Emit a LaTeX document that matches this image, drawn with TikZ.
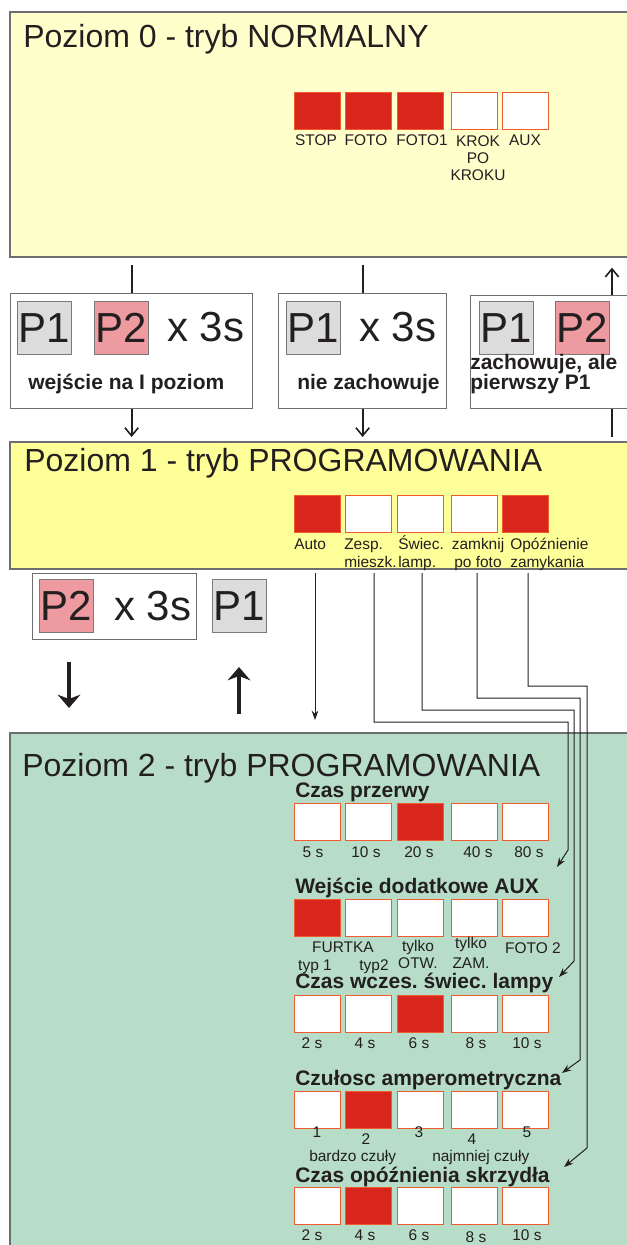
\documentclass[tikz,border=0pt]{standalone}
\usepackage{fontspec}
\setmainfont{Liberation Sans}
\usetikzlibrary{arrows.meta,calc}
\frenchspacing
\definecolor{txt}{HTML}{231F20}
\definecolor{pzero}{HTML}{FFFFCC}
\definecolor{pone}{HTML}{FFFF99}
\definecolor{ptwo}{HTML}{B7DDC8}
\definecolor{pborder}{HTML}{6D6E70}
\definecolor{ledred}{HTML}{D9261C}
\definecolor{ledline}{HTML}{F15A2B}
\definecolor{keygray}{HTML}{DCDCDC}
\definecolor{keypink}{HTML}{EE9AA1}
\definecolor{keyline}{HTML}{7A7A7A}
\tikzset{
  panel/.style={draw=pborder, line width=1pt, anchor=north west, inner sep=0, outer sep=0},
  led/.style={draw=ledline, line width=0.9pt, fill=white, minimum width=34.5pt, minimum height=27.75pt, inner sep=0, anchor=north west},
  ledon/.style={led, fill=ledred},
  lbl/.style={font=\fontsize{11.6}{13.5}\selectfont\frenchspacing, inner sep=0, text=txt},
  head/.style={font=\bfseries\fontsize{15.75}{18}\selectfont\frenchspacing, anchor=base west, inner sep=0, text=txt},
  ttl/.style={font=\fontsize{24}{28}\selectfont, anchor=base west, inner sep=0, text=txt},
  big/.style={font=\fontsize{31.5}{36}\selectfont, inner sep=0, text=txt},
  keyg/.style={big, fill=keygray, draw=keyline, line width=0.75pt, minimum width=40.5pt, minimum height=39.75pt, anchor=north west},
  keyp/.style={keyg, fill=keypink},
  frame/.style={draw=pborder, fill=white, line width=0.9pt, anchor=north west, inner sep=0},
  link/.style={line width=1.5pt, draw=txt},
  barb/.style={-{Straight Barb[length=6pt,width=10pt,line width=1.2pt]}},
  fat/.style={line width=2.4pt, draw=txt, -{Stealth[length=10pt,width=17pt]}},
  route/.style={line width=0.75pt, draw=txt, -{Stealth[length=7pt,width=5pt]}}
}
\begin{document}
\begin{tikzpicture}[x=0.75pt,y=-0.75pt]
\useasboundingbox[fill=white] (0,0) rectangle (627,1245);

% ---------- panels ----------
\node[panel, fill=pzero, minimum width=472.5pt, minimum height=183.75pt] (p0) at (10,12) {};
\node[panel, fill=pone, minimum width=472.5pt, minimum height=95.25pt] (p1) at (10,442) {};
\node[panel, fill=ptwo, minimum width=472.5pt, minimum height=395.25pt] (p2) at (10,733) {};

\node[ttl] (t0) at (23,48) {Poziom 0 - tryb NORMALNY};
\node[ttl] (t1) at (24,471) {Poziom 1 - tryb PROGRAMOWANIA};
\node[ttl] (t2) at (22,776) {Poziom 2 - tryb PROGRAMOWANIA};

% ---------- level 0 LEDs ----------
\node[ledon] (s0a) at (294,92) {};
\node[ledon] (s0b) at (345,92) {};
\node[ledon] (s0c) at (397,92) {};
\node[led]   (s0d) at (451,92) {};
\node[led]   (s0e) at (502,92) {};
\node[lbl, anchor=base] (l0a) at (316,146) {STOP};
\node[lbl, anchor=base] (l0b) at (366,146) {FOTO};
\node[lbl, anchor=base] (l0c) at (422,146) {FOTO1};
\node[lbl, anchor=base, align=center] (l0d) at (478,180.5) {KROK\\[-0.6pt]PO\\[-0.6pt]KROKU};
\node[lbl, anchor=base] (l0e) at (525,146) {AUX};

% ---------- key boxes between level 0 and 1 ----------
\node[frame, minimum width=181.5pt, minimum height=86.25pt] (bA) at (10,293) {};
\node[keyg] (kA1) at (17,301) {P1};
\node[keyp] (kA2) at (94,301) {P2};
\node[big, anchor=base west] (xA) at (167,341) {x 3s};
\node[head] (tA) at (28,389) {wejście na I poziom};

\node[frame, minimum width=126pt, minimum height=86.25pt] (bB) at (278,293) {};
\node[keyg] (kB1) at (286,301) {P1};
\node[big, anchor=base west] (xB) at (359,341) {x 3s};
\node[head] (tB) at (297,389) {nie zachowuje};

\node[frame, minimum width=127.5pt, minimum height=84.75pt] (bC) at (470,295) {};
\node[keyg] (kC1) at (479,301) {P1};
\node[keyp] (kC2) at (555,301) {P2};
\node[head] (tC1) at (470,369) {zachowuje, ale};
\node[head] (tC2) at (470,389) {pierwszy P1};

\coordinate (cC) at (612,0);
\draw[link, shorten <=6pt] (p0.south -| bA.north) -- (bA.north);
\draw[link, shorten <=6pt] (p0.south -| bB.north) -- (bB.north);
\draw[link, barb, shorten >=3.75pt] (bA.south) -- (p1.north -| bA.south);
\draw[link, barb, shorten >=3.75pt] (bB.south) -- (p1.north -| bB.south);
\draw[link, barb, shorten >=8pt] (bC.north -| cC) -- (p0.south -| cC);
\draw[link, shorten >=3.75pt] (bC.south -| cC) -- (p1.north -| cC);

% ---------- level 1 LEDs ----------
\node[ledon] (s1a) at (294,495) {};
\node[led]   (s1b) at (345,495) {};
\node[led]   (s1c) at (397,495) {};
\node[led]   (s1d) at (451,495) {};
\node[ledon] (s1e) at (502,495) {};
\node[lbl, anchor=base west] (l1a) at (294,549) {Auto};
\node[lbl, anchor=base west, align=left] (l1b) at (344,567) {Zesp.\\mieszk.};
\node[lbl, anchor=base west, align=left] (l1c) at (398,567) {Świec.\\lamp.};
\node[lbl, anchor=base, align=center] (l1d) at (478,567) {zamknij\\po foto};
\node[lbl, anchor=base west, align=left] (l1e) at (510,567) {Opóźnienie\\zamykania};

% ---------- keys between level 1 and 2 ----------
\node[frame, minimum width=123pt, minimum height=49.5pt] (bD) at (32,573) {};
\node[keyp] (kD2) at (39,579) {P2};
\node[big, anchor=base west] (xD) at (114,620) {x 3s};
\node[keyg] (kD1) at (212,579) {P1};

\coordinate (dn1) at (69,662);
\coordinate (dn2) at (69,708);
\coordinate (up1) at (239,714);
\coordinate (up2) at (239,667);
\draw[fat] (dn1) -- (dn2);
\draw[fat] (up1) -- (up2);

% ---------- routing connectors ----------
\coordinate (ra0) at (315,573);
\coordinate (ra1) at (315,720);
\draw[route] (ra0) -- (ra1);

\coordinate (r1a) at (374,573);
\coordinate (r1b) at (568,722);
\coordinate (r1c) at (568,850);
\coordinate (r1d) at (557,867);
\draw[route] (r1a) |- (r1b) -- (r1c) -- (r1d);

\coordinate (r2a) at (422,573);
\coordinate (r2b) at (574,710);
\coordinate (r2c) at (574,961);
\coordinate (r2d) at (559,977);
\draw[route] (r2a) |- (r2b) -- (r2c) -- (r2d);

\coordinate (r3a) at (477,573);
\coordinate (r3b) at (580,698);
\coordinate (r3c) at (580,1060);
\coordinate (r3d) at (562,1073);
\draw[route] (r3a) |- (r3b) -- (r3c) -- (r3d);

\coordinate (r4a) at (528,573);
\coordinate (r4b) at (587,686);
\coordinate (r4c) at (587,1148);
\coordinate (r4d) at (564,1167);
\draw[route] (r4a) |- (r4b) -- (r4c) -- (r4d);

% ---------- level 2 ----------
\node[head] (h1) at (295,797) {Czas przerwy};
\node[led]   (a1) at (294,803) {};
\node[led]   (a2) at (345,803) {};
\node[ledon] (a3) at (397,803) {};
\node[led]   (a4) at (451,803) {};
\node[led]   (a5) at (502,803) {};
\node[lbl, anchor=base] (la1) at (313,857) {5 s};
\node[lbl, anchor=base] (la2) at (366,857) {10 s};
\node[lbl, anchor=base] (la3) at (419,857) {20 s};
\node[lbl, anchor=base] (la4) at (478,857) {40 s};
\node[lbl, anchor=base] (la5) at (529,857) {80 s};

\node[head] (h2) at (295,893) {Wejście dodatkowe AUX};
\node[ledon] (b1) at (294,899) {};
\node[led]   (b2) at (345,899) {};
\node[led]   (b3) at (397,899) {};
\node[led]   (b4) at (451,899) {};
\node[led]   (b5) at (502,899) {};
\node[lbl, anchor=base] (lb0) at (343,952) {FURTKA};
\node[lbl, anchor=base] (lb1) at (315,970) {typ 1};
\node[lbl, anchor=base] (lb2) at (374,970) {typ2};
\node[lbl, anchor=base] (lb3a) at (418,951) {tylko};
\node[lbl, anchor=base] (lb3b) at (418,968) {OTW.};
\node[lbl, anchor=base] (lb4a) at (471,948) {tylko};
\node[lbl, anchor=base] (lb4b) at (471,968) {ZAM.};
\node[lbl, anchor=base] (lb5) at (533,953) {FOTO 2};

\node[head] (h3) at (295,988) {Czas wczes. świec. lampy};
\node[led]   (c1) at (294,995) {};
\node[led]   (c2) at (345,995) {};
\node[ledon] (c3) at (397,995) {};
\node[led]   (c4) at (451,995) {};
\node[led]   (c5) at (502,995) {};
\node[lbl, anchor=base] (lc1) at (312,1048) {2 s};
\node[lbl, anchor=base] (lc2) at (365,1048) {4 s};
\node[lbl, anchor=base] (lc3) at (419,1048) {6 s};
\node[lbl, anchor=base] (lc4) at (476,1048) {8 s};
\node[lbl, anchor=base] (lc5) at (527,1048) {10 s};

\node[head] (h4) at (295,1085) {Czułosc amperometryczna};
\node[led]   (d1) at (294,1091) {};
\node[ledon] (d2) at (345,1091) {};
\node[led]   (d3) at (397,1091) {};
\node[led]   (d4) at (451,1091) {};
\node[led]   (d5) at (502,1091) {};
\node[lbl, anchor=base] (ld1) at (317,1137) {1};
\node[lbl, anchor=base] (ld2) at (366,1144) {2};
\node[lbl, anchor=base] (ld3) at (419,1137) {3};
\node[lbl, anchor=base] (ld4) at (472,1144) {4};
\node[lbl, anchor=base] (ld5) at (527,1137) {5};
\node[lbl, anchor=base west] (ld6) at (309,1161) {bardzo czuły};
\node[lbl, anchor=base west] (ld7) at (432,1161) {najmniej czuły};

\node[head] (h5) at (295,1182) {Czas opóźnienia skrzydła};
\node[led]   (e1) at (294,1187) {};
\node[ledon] (e2) at (345,1187) {};
\node[led]   (e3) at (397,1187) {};
\node[led]   (e4) at (451,1187) {};
\node[led]   (e5) at (502,1187) {};
\node[lbl, anchor=base] (le1) at (312,1240) {2 s};
\node[lbl, anchor=base] (le2) at (365,1240) {4 s};
\node[lbl, anchor=base] (le3) at (419,1240) {6 s};
\node[lbl, anchor=base] (le4) at (476,1242) {8 s};
\node[lbl, anchor=base] (le5) at (527,1240) {10 s};
\end{tikzpicture}
\end{document}
